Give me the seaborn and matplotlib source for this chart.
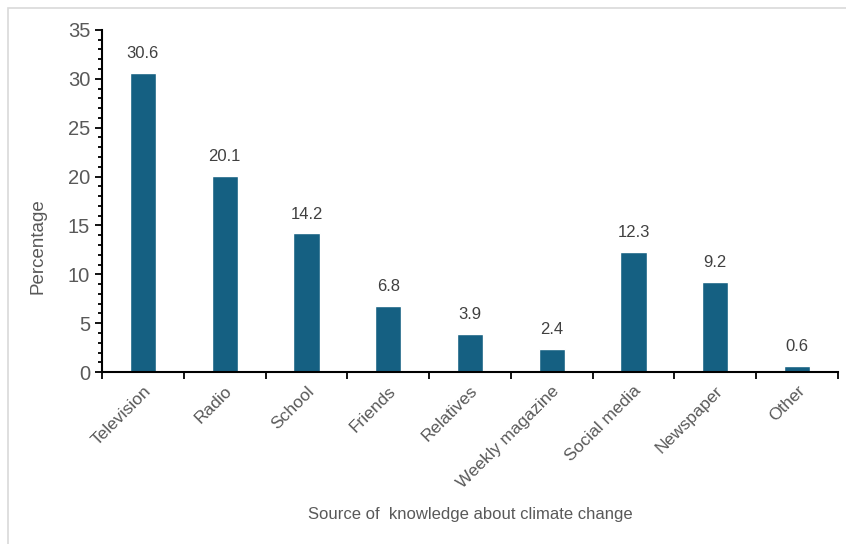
import numpy as np
import pandas as pd
import matplotlib.pyplot as plt
import seaborn as sns
from matplotlib.ticker import MultipleLocator
from matplotlib.patches import Rectangle

fuentes = ['Television', 'Radio', 'School', 'Friends', 'Relatives',
           'Weekly magazine', 'Social media', 'Newspaper', 'Other']
porcentaje = [30.6, 20.1, 14.2, 6.8, 3.9, 2.4, 12.3, 9.2, 0.6]

sns.set_style('white')
plt.rcParams['font.family'] = ['Liberation Sans', 'DejaVu Sans']

gris = '#595959'
df = pd.DataFrame({'fuente': fuentes, 'valor': porcentaje})

fig = plt.figure(figsize=(8.46, 5.44), dpi=100)
ax = fig.add_axes([0.1206, 0.316, 0.8699, 0.629])

sns.barplot(data=df, x='fuente', y='valor', color='#156082', width=0.32,
            saturation=1, ax=ax)

# etiquetas sobre las barras
for i, v in enumerate(porcentaje):
    ax.text(i, v + 1.2, f'{v:.1f}', ha='center', va='bottom', fontsize=12, color='#404040')

ax.set_xlim(-0.5, len(fuentes) - 0.5)
ax.set_ylim(0, 35)
ax.yaxis.set_major_locator(MultipleLocator(5))
ax.yaxis.set_minor_locator(MultipleLocator(1))
ax.set_xticks(np.arange(len(fuentes)))
ax.set_xticks(np.arange(-0.5, len(fuentes), 0.5), minor=True)
ax.set_xticklabels(fuentes, rotation=45, ha='right', rotation_mode='anchor')

ax.tick_params(axis='x', which='major', length=0, labelsize=12.5, labelcolor=gris, pad=8)
ax.tick_params(axis='x', which='minor', direction='out', length=5, width=1.3, color='black', bottom=True)
ax.tick_params(axis='y', which='major', direction='out', length=5, width=1.3, color='black',
               labelsize=14.5, labelcolor=gris, left=True)
ax.tick_params(axis='y', which='minor', direction='out', length=3, width=1.3, color='black', left=True)

sns.despine(ax=ax)
for s in ['left', 'bottom']:
    ax.spines[s].set_color('black')
    ax.spines[s].set_linewidth(1.5)

ax.set_ylabel('Percentage', fontsize=13.5, color=gris)
ax.yaxis.set_label_coords(-0.075, 0.368)
ax.set_xlabel('Source of  knowledge about climate change', fontsize=12, color=gris)
ax.xaxis.set_label_coords(0.5, -0.395)

# marco gris de la figura
fig.patches.append(Rectangle((8 / 846, -0.1), 1.2, 1 - 8 / 544 + 0.1, transform=fig.transFigure,
                             fill=False, edgecolor='#d9d9d9', linewidth=1.2))

fig.savefig('out.png', dpi=100)
